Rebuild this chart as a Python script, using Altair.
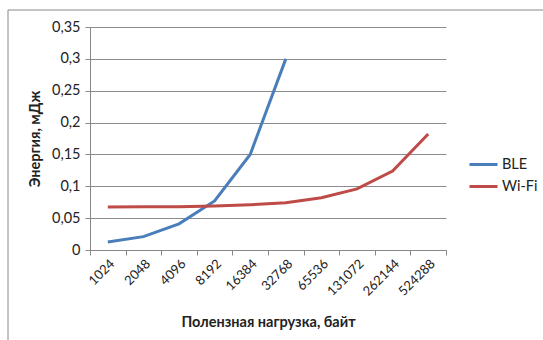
import altair as alt
import pandas as pd

payload = ["1024", "2048", "4096", "8192", "16384", "32768", "65536", "131072", "262144", "524288"]
ble = [0.0125, 0.021, 0.041, 0.077, 0.150, 0.300, None, None, None, None]
wifi = [0.0675, 0.0678, 0.068, 0.069, 0.071, 0.074, 0.082, 0.096, 0.124, 0.182]
series = ["BLE", "Wi-Fi"]
colors = ["#4A7EBB", "#BE4B48"]

rows = []
for p, b, w in zip(payload, ble, wifi):
    if b is not None:
        rows.append({"payload": p, "series": "BLE", "energy": b})
    rows.append({"payload": p, "series": "Wi-Fi", "energy": w})
df = pd.DataFrame(rows)

FONT = "Lato"

lines = alt.Chart(df).mark_line(strokeWidth=3).encode(
    x=alt.X("payload:N", sort=payload, bandPosition=0.5,
            scale=alt.Scale(type="band", paddingInner=0, paddingOuter=0),
            axis=alt.Axis(title="Полензная нагрузка, байт", labelAngle=-45, tickBand="extent",
                          grid=False, domainColor="#888888", tickColor="#888888", tickSize=5,
                          labelFont=FONT, labelFontSize=13, labelColor="#222222", labelPadding=2,
                          titleFont=FONT, titleFontSize=14.5, titleFontWeight="bold", titleColor="#222222",
                          titlePadding=17)),
    y=alt.Y("energy:Q", scale=alt.Scale(domain=[0, 0.35], nice=False),
            axis=alt.Axis(title="Энергия, мДж", values=[0, 0.05, 0.1, 0.15, 0.2, 0.25, 0.3, 0.35],
                          labelExpr="replace(format(datum.value, '.2~f'), '.', ',')",
                          gridColor="#8c8c8c", domainColor="#888888", tickColor="#888888", tickSize=5,
                          labelFont=FONT, labelFontSize=14.5, labelColor="#222222", labelPadding=5,
                          titleFont=FONT, titleFontSize=14.5, titleFontWeight="bold", titleColor="#222222",
                          titlePadding=9)),
    color=alt.Color("series:N", scale=alt.Scale(domain=series, range=colors),
                    legend=alt.Legend(title=None, orient="none", legendX=378, legendY=122,
                                      symbolType="stroke", symbolSize=784, symbolStrokeWidth=3,
                                      labelFont=FONT, labelFontSize=14.5, labelColor="#222222",
                                      labelOffset=3, rowPadding=0)),
)

frame = alt.Chart(pd.DataFrame({"a": [0]})).mark_rect(fill=None, stroke="#888888", strokeWidth=1).encode(
    x=alt.value(-82), x2=alt.value(470), y=alt.value(-17), y2=alt.value(330)
)

chart = alt.layer(frame, lines).properties(
    width=356, height=223,
    autosize=alt.AutoSizeParams(type="none"),
    padding={"left": 90, "top": 27, "right": 97, "bottom": 90},
    background="white",
).configure_view(stroke=None)

chart.save("out.html", embed_options={"renderer": "svg", "actions": False})
